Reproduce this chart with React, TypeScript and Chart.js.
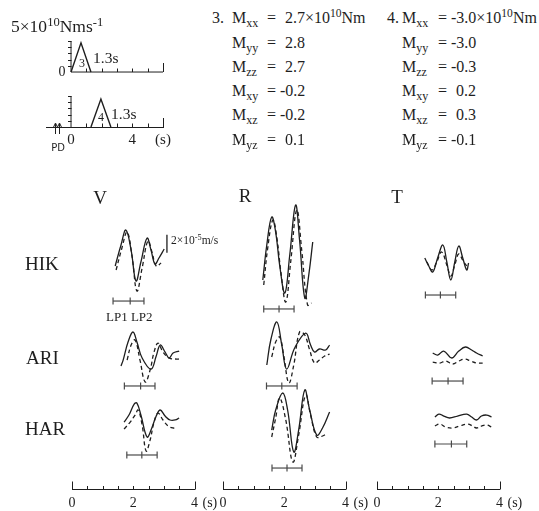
import React, { useEffect, useRef } from 'react';
import { Chart, registerables } from 'chart.js';
Chart.register(...registerables);

type Pt = [number, number];

const SERIF = "'Liberation Serif', 'Times New Roman', serif";
const INK = '#1e1e1e';
const BAR_INK = '#4a4a4a';

// ---------- Source time functions (moment rate, 10^10 N·m/s; time in s) ----------
const STF_TIME_TICKS = [1, 2, 3, 4, 5, 6];
const STF_RATE_TICKS = [1, 2, 3, 4, 5];
const STF_AXIS_TOP = 5;
const STF_BASE_END = 6;
const STF_LABEL_TIMES = [0, 4, 6];
const STF_LABELS = ['0', '4', '(s)'];
const STF3: Pt[] = [[0, 0], [0.65, 4.7], [1.3, 0]];
const STF4: Pt[] = [[1.3, 0], [1.95, 4.5], [2.6, 0]];
const PD_TIMES = [-1.04, -0.76];

// ---------- Moment tensors ----------
const MT_COMPONENTS = ['xx', 'yy', 'zz', 'xy', 'xz', 'yz'];
const MT3 = ['2.7', '2.8', '2.7', '-0.2', '-0.2', '0.1'];
const MT4 = ['-3.0', '-3.0', '-0.3', '0.2', '0.3', '-0.1'];

// ---------- Waveforms (time s, velocity 10^-5 m/s) ----------
const STATIONS = ['HIK', 'ARI', 'HAR'];
const COMPONENTS = ['V', 'R', 'T'];
const TIME_TICKS = [0, 0.5, 1, 1.5, 2, 2.5, 3, 3.5, 4];
const TIME_LABEL_TICKS = [0, 2, 4];

const V_HIK_OBS: Pt[] = [[1.41, -0.67], [1.6, 1.67], [1.76, 3.33], [1.93, 1.11], [2.09, -2.33], [2.25, -0.22], [2.45, 2.44], [2.58, 1.11], [2.71, -0.44], [2.84, 0.22], [3.01, 1.22]];
const V_HIK_SYN: Pt[] = [[1.44, -1.11], [1.63, 1.33], [1.8, 3.11], [1.96, 0.44], [2.12, -3.44], [2.29, -0.89], [2.48, 2.11], [2.61, 0.89], [2.75, -0.67], [2.91, -0.33]];
const V_ARI_OBS: Pt[] = [[1.6, -1.22], [1.67, -0.56], [1.83, 1.44], [1.99, 2.56], [2.12, 1.44], [2.29, -0.33], [2.58, -1.56], [2.75, -0.11], [2.88, 1.11], [3.04, 0.33], [3.17, -0.33], [3.3, 0.22], [3.5, 0.44]];
const V_ARI_SYN: Pt[] = [[1.8, -0.56], [1.93, 1.11], [2.06, 1.67], [2.22, -0.56], [2.39, -3.0], [2.55, -1.67], [2.68, 0.33], [2.81, 1.33], [2.97, 0.33], [3.17, -0.33], [3.37, -0.44], [3.53, -0.44]];
const V_HAR_OBS: Pt[] = [[1.7, 0.33], [1.86, 1.11], [2.03, 2.33], [2.12, 2.44], [2.25, 1.11], [2.45, -1.33], [2.58, -0.56], [2.75, 1.0], [2.88, 1.67], [3.04, 1.0], [3.2, 0.56], [3.37, 0.56], [3.5, 0.78]];
const V_HAR_SYN: Pt[] = [[1.7, -0.44], [1.9, 0.33], [2.06, 1.11], [2.16, 1.67], [2.29, 0.0], [2.42, -2.89], [2.55, -1.67], [2.68, 0.33], [2.81, 1.33], [2.97, 0.56], [3.14, -0.11], [3.3, -0.33], [3.43, -0.33]];

const R_HIK_OBS: Pt[] = [[1.3, -2.22], [1.43, 1.67], [1.59, 4.78], [1.72, 3.11], [1.85, -0.56], [2.02, -3.67], [2.18, 0.56], [2.37, 6.11], [2.5, 2.22], [2.67, -4.22], [2.8, -1.67], [2.93, 2.0]];
const R_HIK_SYN: Pt[] = [[1.33, -2.78], [1.46, 1.33], [1.63, 4.44], [1.76, 2.44], [1.89, -1.33], [2.05, -4.67], [2.21, -0.22], [2.41, 5.56], [2.57, 1.11], [2.76, -5.0], [2.89, -4.78]];
const R_ARI_OBS: Pt[] = [[1.43, -1.11], [1.56, 1.67], [1.76, 3.67], [1.92, 1.11], [2.08, -1.56], [2.34, 0.78], [2.7, 2.44], [2.86, 1.11], [2.99, 0.33], [3.15, 0.67], [3.35, 0.56], [3.48, 1.11]];
const R_ARI_SYN: Pt[] = [[1.59, -0.22], [1.72, 1.44], [1.85, 2.0], [1.98, 0.0], [2.15, -3.11], [2.31, -1.11], [2.5, 2.56], [2.67, 2.22], [2.83, 0.56], [2.99, -0.89], [3.15, -0.56], [3.32, -0.11], [3.48, 0.11]];
const R_HAR_OBS: Pt[] = [[1.59, -0.56], [1.72, 1.67], [1.95, 3.56], [2.11, 1.67], [2.31, -3.0], [2.47, -0.56], [2.67, 3.89], [2.83, 1.67], [3.06, -1.11], [3.25, -0.33], [3.48, 1.44]];
const R_HAR_SYN: Pt[] = [[1.59, -1.33], [1.72, 0.78], [1.85, 3.0], [2.05, 0.56], [2.28, -4.11], [2.47, -1.11], [2.7, 3.33], [2.86, 1.11], [3.06, -1.33], [3.25, -1.22], [3.41, -0.89]];

const T_HIK_OBS: Pt[] = [[1.56, 0.22], [1.69, -0.67], [1.82, -1.33], [1.98, 0.22], [2.15, 1.67], [2.28, -0.22], [2.41, -2.22], [2.54, -0.22], [2.67, 1.56], [2.8, 0.22], [2.93, -1.11], [2.99, -0.33]];
const T_HIK_SYN: Pt[] = [[1.63, -0.22], [1.79, -1.11], [1.95, -0.22], [2.11, 0.89], [2.28, -0.56], [2.41, -1.78], [2.54, -0.56], [2.67, 0.67], [2.83, -0.22], [2.99, -0.89]];
const T_ARI_OBS: Pt[] = [[1.82, 0.22], [1.98, 0.0], [2.18, 0.44], [2.44, -0.33], [2.67, 0.44], [2.89, 0.89], [3.09, 0.56], [3.25, 0.22], [3.45, -0.11]];
const T_ARI_SYN: Pt[] = [[1.82, -0.78], [2.05, -0.89], [2.24, -0.67], [2.47, -1.0], [2.67, -0.67], [2.86, -0.44], [3.06, -0.67], [3.25, -0.89], [3.45, -0.89]];
const T_HAR_OBS: Pt[] = [[1.89, 0.89], [2.02, 1.22], [2.18, 1.0], [2.37, 0.78], [2.63, 1.0], [2.93, 1.22], [3.09, 0.89], [3.25, 0.56], [3.41, 1.0], [3.58, 1.11], [3.74, 0.89]];
const T_HAR_SYN: Pt[] = [[1.89, -0.11], [2.05, 0.11], [2.24, -0.22], [2.47, -0.33], [2.7, -0.11], [2.96, 0.11], [3.12, -0.11], [3.25, -0.33], [3.41, -0.11], [3.58, 0.0], [3.74, -0.22]];

// analysis windows (start, split, end) and the level they are drawn at
const V_WINDOWS = [[1.34, 1.9, 2.35], [1.71, 2.24, 2.71], [1.79, 2.28, 2.78]];
const V_WINDOW_LEVELS = [-4.56, -3.44, -3.33];
const R_WINDOWS = [[1.33, 1.83, 2.32], [1.42, 1.92, 2.42], [1.6, 2.09, 2.58]];
const R_WINDOW_LEVELS = [-5.44, -3.44, -4.78];
const T_WINDOWS = [[1.58, 2.07, 2.57], [1.8, 2.32, 2.81], [1.89, 2.43, 2.93]];
const T_WINDOW_LEVELS = [-3.89, -2.89, -2.11];

// amplitude scale bar: 2 x 10^-5 m/s
const SCALE_BAR: Pt[] = [[3.1, 0.8], [3.1, 2.8]];

const OBS = [[V_HIK_OBS, V_ARI_OBS, V_HAR_OBS], [R_HIK_OBS, R_ARI_OBS, R_HAR_OBS], [T_HIK_OBS, T_ARI_OBS, T_HAR_OBS]];
const SYN = [[V_HIK_SYN, V_ARI_SYN, V_HAR_SYN], [R_HIK_SYN, R_ARI_SYN, R_HAR_SYN], [T_HIK_SYN, T_ARI_SYN, T_HAR_SYN]];
const WINDOWS = [V_WINDOWS, R_WINDOWS, T_WINDOWS];
const WINDOW_LEVELS = [V_WINDOW_LEVELS, R_WINDOW_LEVELS, T_WINDOW_LEVELS];

// ---------- layout ----------
const ROW_MIN = [-5.78, -4.11, -7.11];
const ROW_MAX = [6.67, 4.78, 3.67];
const PANEL_AXIS_LEFT = [72, 223, 377];
const PANEL_AXIS_W = 122.5;
const PANEL_PAD_L = 16;
const PANEL_CANVAS_W = 160;
const PANEL_TOP = 190;
const PANEL_H = 321;

const toXY = (p: Pt[]) => p.map(([x, y]) => ({ x, y }));

function line(ctx: CanvasRenderingContext2D, x1: number, y1: number, x2: number, y2: number) {
  ctx.beginPath();
  ctx.moveTo(x1, y1);
  ctx.lineTo(x2, y2);
  ctx.stroke();
}

const timeTickPlugin = {
  id: 'timeTicks',
  afterDraw(chart: any) {
    const x = chart.scales.x;
    const ctx = chart.ctx as CanvasRenderingContext2D;
    const base = x.top + 0.5;
    ctx.save();
    ctx.strokeStyle = INK;
    ctx.lineWidth = 1;
    TIME_TICKS.forEach((t, i) => {
      const px = Math.round(x.getPixelForValue(t)) + 0.5;
      const len = i === 0 || i === TIME_TICKS.length - 1 ? 8 : 3.5;
      line(ctx, px, base, px, base - len);
    });
    ctx.restore();
  },
};

function panelConfig(p: number): any {
  const datasets: any[] = [];
  STATIONS.forEach((st, i) => {
    const yAxisID = 'y' + st;
    datasets.push({
      data: toXY(OBS[p][i]), yAxisID, borderColor: INK, borderWidth: 1.3,
      pointRadius: 0, tension: 0.4, clip: false, fill: false,
    });
    datasets.push({
      data: toXY(SYN[p][i]), yAxisID, borderColor: INK, borderWidth: 1.3, borderDash: [4, 3],
      pointRadius: 0, tension: 0.4, clip: false, fill: false,
    });
    datasets.push({
      data: WINDOWS[p][i].map((x) => ({ x, y: WINDOW_LEVELS[p][i] })), yAxisID,
      borderColor: BAR_INK, borderWidth: 1.2, tension: 0, clip: false,
      pointStyle: 'line', pointRotation: 90, pointRadius: 3.5, pointBorderWidth: 1.2,
      pointBorderColor: BAR_INK, pointBackgroundColor: BAR_INK,
    });
  });
  if (p === 0) {
    datasets.push({
      data: toXY(SCALE_BAR), yAxisID: 'yHIK', borderColor: INK, borderWidth: 1.3,
      pointRadius: 0, tension: 0, clip: false,
    });
  }
  const scales: any = {
    x: {
      type: 'linear', min: 0, max: 4, position: 'bottom',
      afterFit: (s: any) => { s.height = 22; },
      afterBuildTicks: (s: any) => { s.ticks = TIME_LABEL_TICKS.map((value) => ({ value })); },
      grid: { display: false, drawTicks: false },
      border: { display: true, color: INK, width: 1 },
      ticks: { autoSkip: false, maxRotation: 0, padding: 6, color: INK, font: { family: SERIF, size: 14 }, callback: (v: any) => String(v) },
    },
  };
  // stacked row axes are laid out bottom-up, so register the bottom row first
  for (let i = STATIONS.length - 1; i >= 0; i--) {
    scales['y' + STATIONS[i]] = {
      type: 'linear', position: 'left', display: false, stack: 'rows',
      stackWeight: ROW_MAX[i] - ROW_MIN[i], min: ROW_MIN[i], max: ROW_MAX[i],
    };
  }
  return {
    type: 'line',
    data: { datasets },
    options: {
      animation: false, responsive: false, maintainAspectRatio: false,
      layout: { padding: { left: PANEL_PAD_L, right: PANEL_CANVAS_W - PANEL_PAD_L - PANEL_AXIS_W, top: 10, bottom: 0 } },
      plugins: { legend: { display: false }, tooltip: { enabled: false } },
      scales,
    },
    plugins: [timeTickPlugin],
  };
}

const stfPlugin = {
  id: 'stfMarks',
  afterDraw(chart: any) {
    const { x, y3, y4 } = chart.scales;
    const ctx = chart.ctx as CanvasRenderingContext2D;
    ctx.save();
    ctx.strokeStyle = INK;
    ctx.fillStyle = INK;
    ctx.lineWidth = 1;
    const px0 = Math.round(x.getPixelForValue(0)) + 0.5;
    [y3, y4].forEach((y: any) => {
      const base = y.getPixelForValue(0);
      STF_TIME_TICKS.forEach((t) => {
        const px = Math.round(x.getPixelForValue(t)) + 0.5;
        const len = t === STF_BASE_END ? 9 : 3.5;
        line(ctx, px, base, px, base - len);
      });
      STF_RATE_TICKS.forEach((v) => {
        const py = Math.round(y.getPixelForValue(v)) + 0.5;
        line(ctx, px0 - 3.5, py, px0, py);
      });
    });
    const base = y4.getPixelForValue(0);
    PD_TIMES.forEach((t) => {
      const px = Math.round(x.getPixelForValue(t)) + 0.5;
      line(ctx, px, base + 7, px, base - 3);
      ctx.beginPath();
      ctx.moveTo(px - 2.4, base + 1);
      ctx.lineTo(px, base - 4);
      ctx.lineTo(px + 2.4, base + 1);
      ctx.stroke();
    });
    ctx.restore();
  },
};

function stfConfig(): any {
  const thin = { borderColor: INK, borderWidth: 1, pointRadius: 0, tension: 0, clip: false };
  const tri = { borderColor: INK, borderWidth: 1.4, pointRadius: 0, tension: 0, clip: false };
  const datasets = [
    { ...thin, data: [{ x: 0, y: 0 }, { x: STF_BASE_END, y: 0 }], yAxisID: 'y3' },
    { ...thin, data: [{ x: 0, y: 0 }, { x: 0, y: STF_AXIS_TOP }], yAxisID: 'y3' },
    { ...tri, data: toXY(STF3), yAxisID: 'y3' },
    { ...thin, data: [{ x: 0, y: 0 }, { x: 0, y: STF_AXIS_TOP }], yAxisID: 'y4' },
    { ...tri, data: toXY(STF4), yAxisID: 'y4' },
  ];
  return {
    type: 'line',
    data: { datasets },
    options: {
      animation: false, responsive: false, maintainAspectRatio: false,
      layout: { padding: { left: 46.5, right: 47, top: 8, bottom: 11 } },
      plugins: { legend: { display: false }, tooltip: { enabled: false } },
      scales: {
        x: {
          type: 'linear', min: -1.6, max: STF_BASE_END, position: 'bottom',
          afterFit: (s: any) => { s.height = 22; },
          afterBuildTicks: (s: any) => { s.ticks = STF_LABEL_TIMES.map((value) => ({ value })); },
          grid: { display: false, drawTicks: false },
          border: { display: true, color: INK, width: 1 },
          ticks: {
            autoSkip: false, maxRotation: 0, padding: 4, color: INK, font: { family: SERIF, size: 15 },
            callback: (v: any) => STF_LABELS[STF_LABEL_TIMES.indexOf(v)] ?? '',
          },
        },
        // bottom panel first (stacks are filled bottom-up)
        y4: { type: 'linear', position: 'left', display: false, stack: 'stf', stackWeight: 7.26, min: 0, max: 7.26 },
        y3: { type: 'linear', position: 'left', display: false, stack: 'stf', stackWeight: 7.1, min: -1.61, max: 5.49 },
      },
    },
    plugins: [stfPlugin],
  };
}

function ChartBox({ left, top, width, height, make }: { left: number; top: number; width: number; height: number; make: () => any }) {
  const ref = useRef<HTMLCanvasElement>(null);
  useEffect(() => {
    const chart = new Chart(ref.current as HTMLCanvasElement, make());
    return () => chart.destroy();
  }, []);
  return <canvas ref={ref} width={width} height={height} style={{ position: 'absolute', left, top, width, height }} />;
}

const supS: React.CSSProperties = { fontSize: '0.72em', verticalAlign: '0.5em', lineHeight: 0 };
const subS: React.CSSProperties = { fontSize: '0.75em', verticalAlign: '-0.35em', lineHeight: 0 };

function Txt({ x, y, size = 16, center = false, family = SERIF, children }: { x: number; y: number; size?: number; center?: boolean; family?: string; children: React.ReactNode }) {
  return (
    <div style={{ position: 'absolute', left: x, top: y, fontFamily: family, fontSize: size, lineHeight: 1, whiteSpace: 'nowrap', color: INK, transform: `translate(${center ? '-50%' : '0'}, -50%)` }}>
      {children}
    </div>
  );
}

const MT_ROW_Y = [18, 43, 67, 91, 115, 140];

function MomentTensor({ idx, values, xNum, xM, xEq }: { idx: string; values: string[]; xNum: number; xM: number; xEq: number }) {
  return (
    <>
      <Txt x={xNum} y={MT_ROW_Y[0]} size={16}>{idx}</Txt>
      {MT_COMPONENTS.map((c, i) => {
        const neg = values[i].startsWith('-');
        return (
          <React.Fragment key={c}>
            <Txt x={xM} y={MT_ROW_Y[i]} size={16}>M<span style={subS}>{c}</span></Txt>
            <Txt x={xEq} y={MT_ROW_Y[i]} size={16}>=</Txt>
            <Txt x={xEq + (neg ? 13 : 18)} y={MT_ROW_Y[i]} size={16}>
              {values[i]}
              {i === 0 ? <>×10<span style={supS}>10</span>Nm</> : null}
            </Txt>
          </React.Fragment>
        );
      })}
    </>
  );
}

export default function App() {
  return (
    <div style={{ position: 'absolute', left: 0, top: 0, width: 539, height: 511, background: '#fff', overflow: 'hidden' }}>
      <ChartBox left={0} top={30} width={210} height={130} make={stfConfig} />
      {COMPONENTS.map((c, p) => (
        <ChartBox key={c} left={PANEL_AXIS_LEFT[p] - PANEL_PAD_L} top={PANEL_TOP} width={PANEL_CANVAS_W} height={PANEL_H} make={() => panelConfig(p)} />
      ))}

      <Txt x={11} y={27} size={17.5}>5×10<span style={supS}>10</span>Nms<span style={supS}>-1</span></Txt>
      <Txt x={62} y={72} size={14} center>0</Txt>
      <Txt x={82} y={63} size={12} center>3</Txt>
      <Txt x={93} y={58} size={15.5}>1.3s</Txt>
      <Txt x={101} y={117} size={12} center>4</Txt>
      <Txt x={111} y={114} size={15.5}>1.3s</Txt>
      <Txt x={58} y={148} size={10} center family="'DejaVu Sans', sans-serif">PD</Txt>

      <MomentTensor idx="3." values={MT3} xNum={212} xM={232} xEq={267} />
      <MomentTensor idx="4." values={MT4} xNum={387} xM={402} xEq={438} />

      <Txt x={100} y={197} size={19} center>V</Txt>
      <Txt x={245} y={195} size={19} center>R</Txt>
      <Txt x={397} y={196} size={19} center>T</Txt>

      <Txt x={25} y={263} size={19}>HIK</Txt>
      <Txt x={26} y={357} size={19}>ARI</Txt>
      <Txt x={25} y={428} size={19}>HAR</Txt>

      <Txt x={171} y={241} size={11.5}>2×10<span style={supS}>-5</span>m/s</Txt>
      <Txt x={106} y={316} size={13}>LP1 LP2</Txt>

      {PANEL_AXIS_LEFT.map((l, p) => (
        <Txt key={p} x={l + PANEL_AXIS_W + 8} y={503} size={14}>(s)</Txt>
      ))}
    </div>
  );
}
